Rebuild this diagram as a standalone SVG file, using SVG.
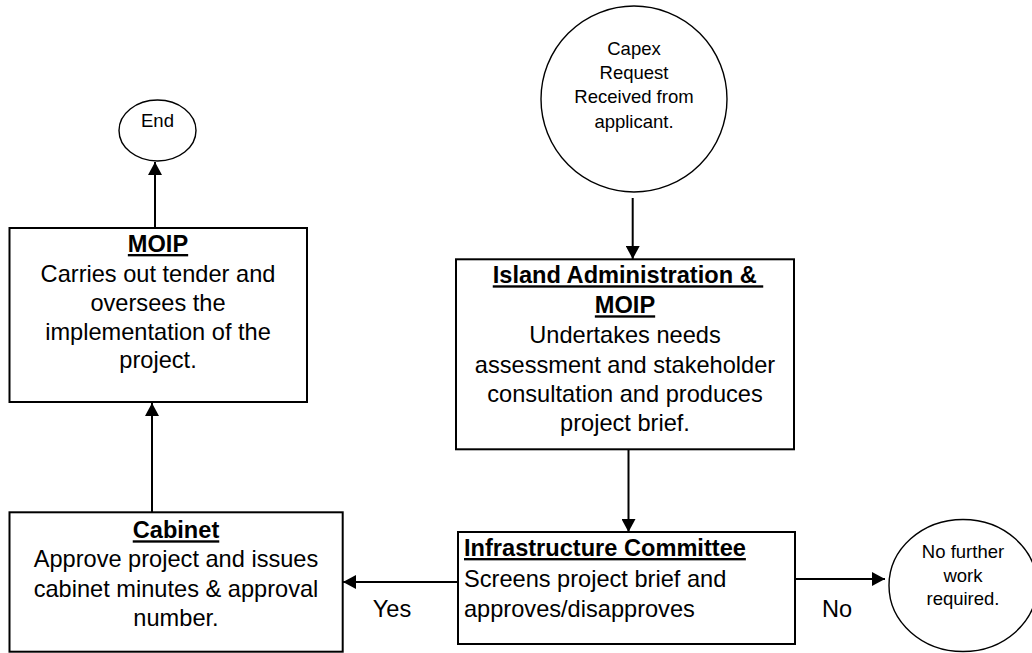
<svg xmlns="http://www.w3.org/2000/svg" width="1032" height="653" viewBox="0 0 1032 653">
<style>
.box{fill:#fff;stroke:#000;stroke-width:2}
.oval{fill:#fff;stroke:#000;stroke-width:1.4}
.t{font-family:"Liberation Sans",Arial,sans-serif;font-size:23.6px;fill:#000}
.s{font-family:"Liberation Sans",Arial,sans-serif;font-size:18.5px;fill:#000}
.h{font-weight:bold;text-decoration:underline}
.c{text-anchor:middle}
.edge{stroke:#000;stroke-width:2;fill:none;marker-end:url(#ah)}
</style>
<defs>
<marker id="ah" markerUnits="userSpaceOnUse" markerWidth="14" markerHeight="14" refX="13" refY="7" orient="auto">
<path d="M0,0 L13,7 L0,14 z" fill="#000"/>
</marker>
</defs>
<rect width="1032" height="653" fill="#fff"/>
<g id="connectors">
<line class="edge" x1="155" y1="228" x2="155" y2="162"/>
<line class="edge" x1="152" y1="512" x2="152" y2="403"/>
<line class="edge" x1="632.7" y1="198" x2="632.7" y2="259"/>
<line class="edge" x1="628.5" y1="449" x2="628.5" y2="532"/>
<line class="edge" x1="458" y1="582" x2="343" y2="582"/>
<line class="edge" x1="795" y1="579" x2="885" y2="579"/>
<text class="t c" x="392" y="617">Yes</text>
<text class="t c" x="837" y="617">No</text>
</g>
<g id="end">
<ellipse class="oval" cx="157.5" cy="130.5" rx="38.5" ry="30.5"/>
<text class="s c" x="157.5" y="127">End</text>
</g>
<g id="moip">
<rect class="box" x="9.5" y="228" width="297.5" height="174"/>
<text class="t c" x="158" y="252"><tspan class="h" x="158">MOIP</tspan><tspan x="158" y="281.7">Carries out tender and</tspan><tspan x="158" y="310.7">oversees the</tspan><tspan x="158" y="340">implementation of the</tspan><tspan x="158" y="368.3">project.</tspan></text>
</g>
<g id="capex">
<circle class="oval" cx="634" cy="99" r="93"/>
<text class="s c" x="634" y="55"><tspan x="634">Capex</tspan><tspan x="634" y="79">Request</tspan><tspan x="634" y="103">Received from</tspan><tspan x="634" y="128">applicant.</tspan></text>
</g>
<g id="island">
<rect class="box" x="456" y="259.3" width="338" height="190"/>
<text class="t c" x="625" y="283.3"><tspan class="h" x="628">Island Administration &amp;&#160;</tspan><tspan class="h" x="625" y="313.3">MOIP</tspan><tspan x="625" y="343.3">Undertakes needs</tspan><tspan x="625" y="372.7">assessment and stakeholder</tspan><tspan x="625" y="401.7">consultation and produces</tspan><tspan x="625" y="430.5">project brief.</tspan></text>
</g>
<g id="infra">
<rect class="box" x="458" y="532" width="337" height="112"/>
<text class="t" x="464" y="556"><tspan class="h" x="464">Infrastructure Committee</tspan><tspan x="464" y="587">Screens project brief and</tspan><tspan x="464" y="617">approves/disapproves</tspan></text>
</g>
<g id="cabinet">
<rect class="box" x="9.5" y="512.3" width="333.2" height="139.4"/>
<text class="t c" x="176" y="538.3"><tspan class="h" x="176">Cabinet</tspan><tspan x="176" y="567.3">Approve project and issues</tspan><tspan x="176" y="596.7">cabinet minutes &amp; approval</tspan><tspan x="176" y="625.7">number.</tspan></text>
</g>
<g id="nofurther">
<ellipse class="oval" cx="963" cy="585.5" rx="74" ry="66"/>
<text class="s c" x="963" y="558"><tspan x="963">No further</tspan><tspan x="963" y="581.7">work</tspan><tspan x="963" y="605">required.</tspan></text>
</g>
</svg>
